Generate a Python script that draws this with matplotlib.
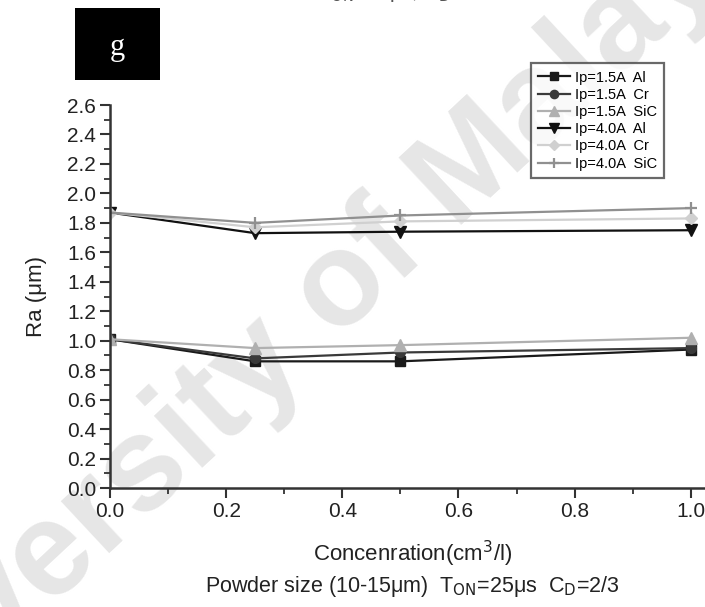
import matplotlib
matplotlib.use("Agg")
import matplotlib.pyplot as plt
from matplotlib.ticker import MultipleLocator

plt.rcParams['font.family'] = ['Liberation Sans', 'DejaVu Sans']

conc = [0.0, 0.25, 0.5, 1.0]
labels = ["Ip=1.5A  Al", "Ip=1.5A  Cr", "Ip=1.5A  SiC",
          "Ip=4.0A  Al", "Ip=4.0A  Cr", "Ip=4.0A  SiC"]
ra_15_al = [1.01, 0.86, 0.86, 0.94]
ra_15_cr = [1.01, 0.88, 0.92, 0.95]
ra_15_sic = [1.01, 0.95, 0.97, 1.02]
ra_40_al = [1.87, 1.73, 1.74, 1.75]
ra_40_cr = [1.87, 1.77, 1.81, 1.83]
ra_40_sic = [1.87, 1.80, 1.85, 1.90]
series = [ra_15_al, ra_15_cr, ra_15_sic, ra_40_al, ra_40_cr, ra_40_sic]

markers = ['s', 'o', '^', 'v', 'D', '+']
colors = ['#1a1a1a', '#3a3a3a', '#b0b0b0', '#111111', '#d0d0d0', '#909090']
msizes = [7, 7, 8, 8, 6, 9]

fig = plt.figure(figsize=(7.05, 6.07), dpi=100)

# watermark (behind the chart)
fig.text(0.406, 0.437, "University of Malaya", fontsize=96, color='#e6e6e6',
         fontweight='bold', rotation=43, rotation_mode='anchor',
         ha='center', va='center', zorder=-5)

ax = fig.add_axes([0.156, 0.196, 0.86, 0.631])
ax.patch.set_alpha(0)

for y, m, c, ms, lab in zip(series, markers, colors, msizes, labels):
    ax.plot(conc, y, marker=m, color=c, markersize=ms, linewidth=1.6,
            markeredgewidth=1.6 if m == '+' else 1.0, label=lab)

ax.set_xlim(0, 1.044)
ax.set_ylim(0, 2.6)
ax.xaxis.set_major_locator(MultipleLocator(0.2))
ax.xaxis.set_minor_locator(MultipleLocator(0.1))
ax.yaxis.set_major_locator(MultipleLocator(0.2))
ax.yaxis.set_minor_locator(MultipleLocator(0.1))
ax.xaxis.set_major_formatter(plt.FormatStrFormatter('%.1f'))
ax.yaxis.set_major_formatter(plt.FormatStrFormatter('%.1f'))
for s in ['top', 'right']:
    ax.spines[s].set_visible(False)
for s in ['left', 'bottom']:
    ax.spines[s].set_linewidth(1.8)
    ax.spines[s].set_color('#333333')
ax.tick_params(which='major', direction='out', length=7, width=1.5,
               labelsize=15, colors='#333333', labelcolor='#222222', pad=3)
ax.tick_params(which='minor', direction='out', length=4, width=1.3, colors='#333333')

ax.set_ylabel("Ra (μm)", fontsize=16, labelpad=14, color='#222222')
ax.set_xlabel("Concenration(cm$^3$/l)", fontsize=16, labelpad=13, color='#222222')
fig.text(0.585, 0.034, "Powder size (10-15μm)  T$_{\\mathrm{ON}}$=25μs  C$_{\\mathrm{D}}$=2/3",
         ha='center', va='center', fontsize=15.5, color='#222222')

leg = ax.legend(loc='upper left', bbox_to_anchor=(0.682, 1.128), fontsize=10.5,
                frameon=True, fancybox=False, handlelength=2.2, handletextpad=0.3,
                labelspacing=0.22, borderpad=0.5, markerscale=0.85)
leg.get_frame().set_edgecolor('#444444')
leg.get_frame().set_linewidth(1.6)

# cropped title fragment at the top
fig.text(0.575, 1.004, "T$_{\\mathrm{ON}}$=25μs, C$_{\\mathrm{D}}$=2/3", ha='center', va='baseline',
         fontsize=15, color='#555555')

# panel label box
fig.patches.append(plt.Rectangle((75 / 705, 1 - 80 / 607), 85 / 705, 72 / 607,
                                 transform=fig.transFigure, facecolor='black',
                                 edgecolor='none', zorder=5))
fig.text(117 / 705, 1 - 48 / 607, "g", color='white', fontsize=22,
         family='Liberation Serif', ha='center', va='center', zorder=6)

fig.savefig("out.png", dpi=100)
